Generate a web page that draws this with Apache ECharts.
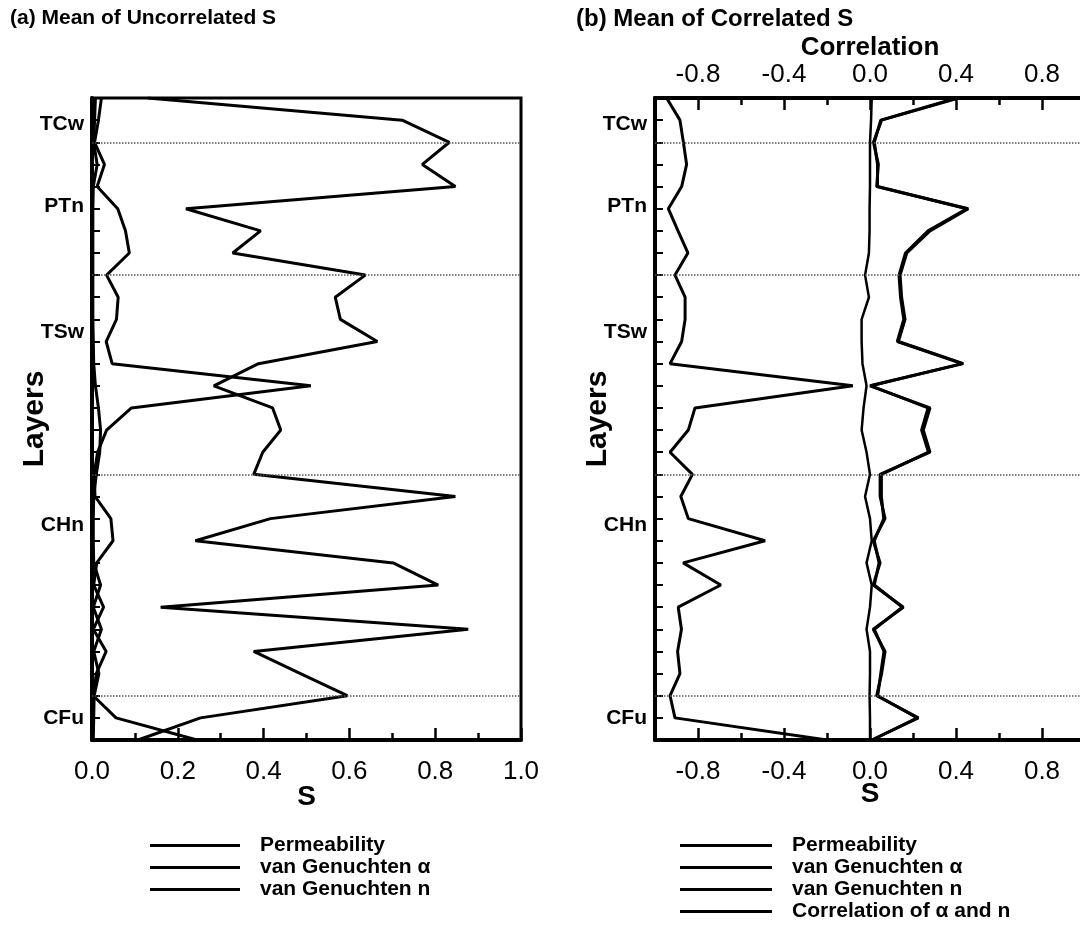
<!DOCTYPE html>
<html>
<head>
<meta charset="utf-8">
<script src="https://cdn.jsdelivr.net/npm/echarts@6/dist/echarts.min.js"></script>
<style>
  html, body { margin: 0; padding: 0; background: #fff; }
  #chart { width: 1080px; height: 937px; }
</style>
</head>
<body>
<div id="chart"></div>
<script>
// sub-layer index down the column (0 = top of TCw, 29 = bottom of CFu)
const depth = [0, 1, 2, 3, 4, 5, 6, 7, 8, 9, 10, 11, 12, 13, 14, 15, 16, 17, 18, 19, 20, 21, 22, 23, 24, 25, 26, 27, 28, 29]
const layerNames = ["TCw", "PTn", "TSw", "CHn", "CFu"]
const layerLabelPos = [1.2, 4.9, 10.6, 19.3, 28]
const layerBounds = [2, 8, 17, 27]

// (a) uncorrelated
const permA = [0.008, 0.006, 0.004, 0.012, 0.003, 0.002, 0.002, 0.002, 0.002, 0.002, 0.002, 0.003, 0.004, 0.008, 0.015, 0.02, 0.018, 0.01, 0.004, 0.003, 0.003, 0.004, 0.02, 0.003, 0.022, 0.004, 0.016, 0.005, 0.004, 0.003]
const alphaA = [0.022, 0.015, 0.006, 0.029, 0.012, 0.06, 0.078, 0.087, 0.034, 0.061, 0.057, 0.033, 0.047, 0.51, 0.092, 0.034, 0.013, 0.005, 0.007, 0.044, 0.049, 0.011, 0.004, 0.027, 0.003, 0.033, 0.01, 0.003, 0.056, 0.245]
const nA = [0.13, 0.723, 0.833, 0.77, 0.847, 0.219, 0.393, 0.328, 0.637, 0.567, 0.579, 0.665, 0.388, 0.284, 0.421, 0.44, 0.398, 0.377, 0.847, 0.416, 0.241, 0.702, 0.807, 0.16, 0.877, 0.377, 0.486, 0.595, 0.253, 0.107]

// (b) correlated
const permB = [0.008, 0.005, 0.0, 0.0, 0.0, -0.002, -0.002, -0.005, -0.023, -0.005, -0.039, -0.039, -0.035, -0.016, -0.03, -0.039, -0.016, 0.0, -0.023, 0.0, 0.008, -0.016, 0.008, 0.0, -0.016, 0.0, 0.0, -0.002, 0.0, 0.0]
const alphaB = [0.411, 0.054, 0.016, 0.039, 0.031, 0.457, 0.279, 0.171, 0.14, 0.147, 0.163, 0.132, 0.434, 0.0, 0.279, 0.248, 0.279, 0.047, 0.047, 0.07, 0.015, 0.047, 0.015, 0.155, 0.015, 0.07, 0.054, 0.031, 0.225, 0.008]
const nB = [0.405, 0.05, 0.02, 0.035, 0.035, 0.45, 0.27, 0.165, 0.135, 0.142, 0.157, 0.127, 0.428, 0.005, 0.27, 0.24, 0.272, 0.053, 0.053, 0.064, 0.02, 0.042, 0.02, 0.15, 0.02, 0.065, 0.05, 0.036, 0.22, 0.01]
const corrB = [-0.946, -0.884, -0.868, -0.853, -0.876, -0.938, -0.893, -0.847, -0.907, -0.86, -0.86, -0.876, -0.93, -0.08, -0.814, -0.845, -0.93, -0.826, -0.88, -0.845, -0.488, -0.869, -0.694, -0.892, -0.877, -0.895, -0.884, -0.93, -0.907, -0.2]

const bMajor = [-0.8, -0.4, 0, 0.4, 0.8]
const bMinor = [-0.6, -0.2, 0.2, 0.6]

const FONT = "Liberation Sans, Arial, sans-serif"

const pairs = (vals) => vals.map((v, i) => [v, depth[i]])

const lineSeries = (name, vals, gi, extra) => Object.assign({
  name: name,
  type: "line",
  xAxisIndex: gi === 0 ? 0 : 1,
  yAxisIndex: gi,
  data: pairs(vals),
  symbol: "none",
  showSymbol: false,
  lineStyle: { color: "#000", width: 3 },
  silent: true
}, extra || {})

const layerLines = {
  silent: true,
  symbol: ["none", "none"],
  label: { show: false },
  lineStyle: { color: "#555", type: "dotted", width: 1.5 },
  data: layerBounds.map(b => ({ yAxis: b }))
}

const tickStyle = { color: "#000", width: 2.5 }

const xBase = {
  type: "value",
  min: -1,
  max: 1,
  splitLine: { show: false },
  nameMoveOverlap: false,
  axisLine: { onZero: false, lineStyle: { color: "#000", width: 4 } }
}

const yBase = (gi) => ({
  type: "value",
  gridIndex: gi,
  min: 0,
  max: 29,
  interval: 1,
  inverse: true,
  splitLine: { show: false },
  axisLine: { onZero: false, lineStyle: { color: "#000", width: 4 } },
  axisTick: { inside: true, length: 8, lineStyle: { color: "#000", width: 2 } },
  axisLabel: {
    customValues: layerLabelPos,
    formatter: (v) => {
      let k = 0
      layerLabelPos.forEach((p, i) => { if (Math.abs(p - v) < Math.abs(layerLabelPos[k] - v)) k = i })
      return layerNames[k]
    },
    margin: 8,
    fontSize: 21,
    fontWeight: "bold",
    color: "#000"
  },
  name: "Layers",
  nameLocation: "middle",
  nameGap: 42,
  nameMoveOverlap: false,
  nameTextStyle: { fontSize: 30, fontWeight: "bold", color: "#000" }
})

const legendText = { fontSize: 21, fontWeight: "bold", color: "#000", padding: [0, 0, 0, 15] }

const option = {
  animation: false,
  color: ["#000"],
  textStyle: { fontFamily: FONT, color: "#000" },
  title: [
    { text: "(a) Mean of Uncorrelated S", left: 10, top: 8, padding: 0, textStyle: { fontSize: 21, fontWeight: "bold", color: "#000" } },
    { text: "(b) Mean of Correlated S", left: 576, top: 7, padding: 0, textStyle: { fontSize: 24, fontWeight: "bold", color: "#000" } }
  ],
  legend: [
    {
      left: 145, top: 830, orient: "vertical", selectedMode: false,
      data: ["Permeability", "van Genuchten α", "van Genuchten n"],
      icon: "rect", itemWidth: 90, itemHeight: 3, itemGap: 1,
      textStyle: legendText
    },
    {
      left: 675, top: 830, orient: "vertical", selectedMode: false,
      data: ["Permeability", "van Genuchten α", "van Genuchten n", "Correlation of α and n"],
      icon: "rect", itemWidth: 92, itemHeight: 3, itemGap: 1,
      textStyle: legendText
    }
  ],
  grid: [
    { left: 92, top: 98, width: 429, height: 642, show: true, borderColor: "#000", borderWidth: 3, outerBoundsMode: "none" },
    { left: 655, top: 98, width: 430, height: 642, show: true, borderColor: "#000", borderWidth: 3, outerBoundsMode: "none" }
  ],
  xAxis: [
    Object.assign({}, xBase, {
      gridIndex: 0, position: "bottom", min: 0, max: 1, interval: 0.2,
      axisTick: { inside: true, length: 12, lineStyle: tickStyle },
      minorTick: { show: true, splitNumber: 2, length: 7, lineStyle: tickStyle },
      axisLabel: { margin: 19, fontSize: 26, color: "#000", formatter: (v) => v.toFixed(1) },
      name: "S", nameLocation: "middle", nameGap: 43,
      nameTextStyle: { fontSize: 28, fontWeight: "bold", color: "#000" }
    }),
    Object.assign({}, xBase, {
      gridIndex: 1, position: "bottom",
      axisTick: { inside: true, length: 12, lineStyle: tickStyle, customValues: bMajor },
      axisLabel: { margin: 19, fontSize: 26, color: "#000", customValues: bMajor, formatter: (v) => v.toFixed(1) },
      name: "S", nameLocation: "middle", nameGap: 40,
      nameTextStyle: { fontSize: 28, fontWeight: "bold", color: "#000" }
    }),
    Object.assign({}, xBase, {
      gridIndex: 1, position: "bottom",
      axisLine: { show: false, onZero: false },
      axisTick: { inside: true, length: 7, lineStyle: tickStyle, customValues: bMinor },
      axisLabel: { show: false }
    }),
    Object.assign({}, xBase, {
      gridIndex: 1, position: "top",
      axisTick: { inside: true, length: 12, lineStyle: tickStyle, customValues: bMajor },
      axisLabel: { margin: 10, fontSize: 26, color: "#000", customValues: bMajor, formatter: (v) => v.toFixed(1) },
      name: "Correlation", nameLocation: "middle", nameGap: 37,
      nameTextStyle: { fontSize: 26, fontWeight: "bold", color: "#000" }
    }),
    Object.assign({}, xBase, {
      gridIndex: 1, position: "top",
      axisLine: { show: false, onZero: false },
      axisTick: { inside: true, length: 7, lineStyle: tickStyle, customValues: bMinor },
      axisLabel: { show: false }
    })
  ],
  yAxis: [yBase(0), yBase(1)],
  series: [
    lineSeries("Permeability", permA, 0, { markLine: layerLines }),
    lineSeries("van Genuchten α", alphaA, 0),
    lineSeries("van Genuchten n", nA, 0),
    lineSeries("Permeability", permB, 1, { markLine: layerLines, lineStyle: { color: "#000", width: 2.5 } }),
    lineSeries("van Genuchten α", alphaB, 1),
    lineSeries("van Genuchten n", nB, 1),
    lineSeries("Correlation of α and n", corrB, 1)
  ]
}

const chart = echarts.init(document.getElementById("chart"))
chart.setOption(option)
</script>
</body>
</html>
